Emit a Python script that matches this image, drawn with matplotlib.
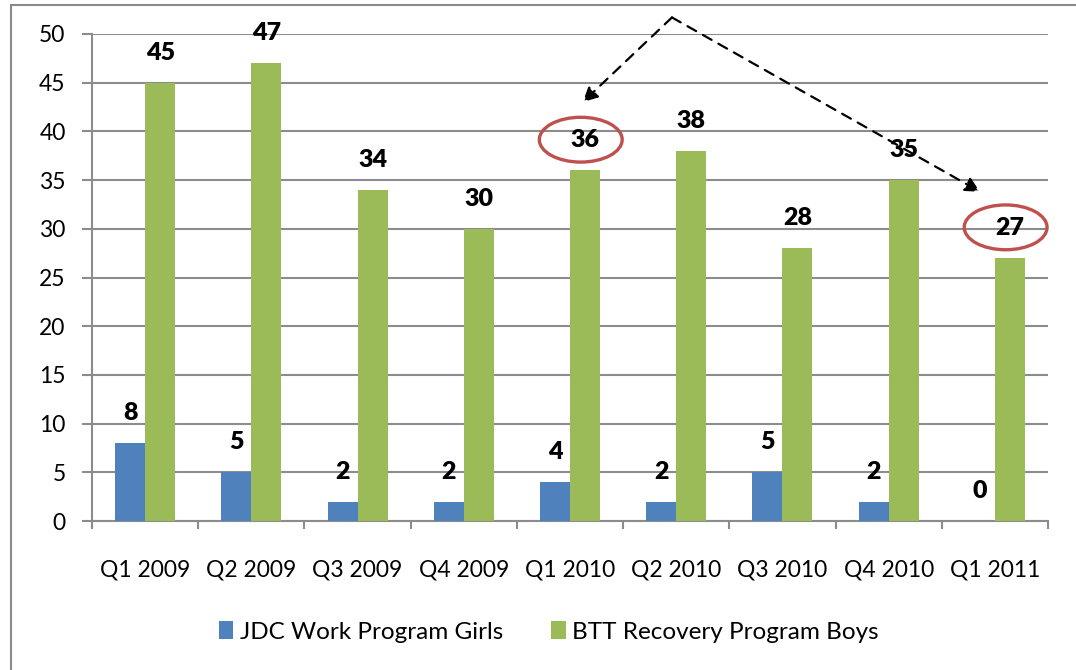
import matplotlib.pyplot as plt
import matplotlib.patches as mpatches
import numpy as np

# data
quarters = ['Q1 2009', 'Q2 2009', 'Q3 2009', 'Q4 2009', 'Q1 2010',
            'Q2 2010', 'Q3 2010', 'Q4 2010', 'Q1 2011']
girls = [8, 5, 2, 2, 4, 2, 5, 2, 0]
boys = [45, 47, 34, 30, 36, 38, 28, 35, 27]
series_names = ['JDC Work Program Girls', 'BTT Recovery Program Boys']
circled = [4, 8]  # boys values marked with a red ring

blue = '#4F81BD'
green = '#9BBB59'
grid_c = '#8C8C8C'

plt.rcParams['font.family'] = ['Lato', 'DejaVu Sans']

fig = plt.figure(figsize=(10.76, 6.70), dpi=100)
ax = fig.add_axes([92/1076, 1-521/670, (1048-92)/1076, (521-34)/670])

x = np.arange(len(quarters))
w = 0.2825
b1 = ax.bar(x - w/2, girls, w, color=blue, label=series_names[0], zorder=3)
b2 = ax.bar(x + w/2, boys, w, color=green, label=series_names[1], zorder=3)

# value labels above the bars
for bars, vals in ((b1, girls), (b2, boys)):
    for r, v in zip(bars, vals):
        ax.annotate(str(v), (r.get_x() + r.get_width()/2, v),
                    xytext=(0, 21.5), textcoords='offset points',
                    ha='center', va='center', fontsize=18, fontweight='heavy',
                    zorder=5, annotation_clip=False)

# red rings round two labels
for i in circled:
    ax.add_patch(mpatches.Ellipse((x[i] + w/2 - 0.04, boys[i] + 3.15), 0.78, 4.6,
                                  fill=False, edgecolor='#C0504D', lw=2.4,
                                  zorder=6, clip_on=False))

# dashed arrows from a common apex
apex = (4.96, 51.7)
for tip in ((4.12, 43.0), (7.86, 33.8)):
    ax.annotate('', xy=tip, xytext=apex, annotation_clip=False,
                arrowprops=dict(arrowstyle='-|>', color='black', lw=1.6,
                                linestyle=(0, (4.5, 3.5)), mutation_scale=22,
                                shrinkA=0, shrinkB=0), zorder=7)

ax.set_xlim(-0.5, len(quarters) - 0.5)
ax.set_ylim(0, 50)
ax.set_yticks(range(0, 51, 5))
ax.set_xticks(x)
ax.set_xticklabels(quarters)
ax.set_xticks(np.arange(-0.5, len(quarters), 1), minor=True)
ax.tick_params(axis='x', which='major', length=0, pad=28, labelsize=16.5)
ax.tick_params(axis='x', which='minor', length=6, width=1.5, color=grid_c, direction='out')
ax.tick_params(axis='y', length=7, width=1.5, color=grid_c, pad=12, labelsize=16.5)

ax.grid(axis='y', color=grid_c, lw=1.5, zorder=0)
for s in ('top', 'right'):
    ax.spines[s].set_visible(False)
for s in ('left', 'bottom'):
    ax.spines[s].set_color(grid_c)
    ax.spines[s].set_linewidth(1.5)

fig.legend(handles=[b1, b2], loc='center', bbox_to_anchor=(0.51, 1-632/670),
           ncol=2, frameon=False, fontsize=17.5, handlelength=0.6,
           handleheight=0.75, handletextpad=0.25, columnspacing=2.0)

# outer chart border (cut off at right and bottom)
fig.patches.append(mpatches.Rectangle((11/1076, -0.2), 1.2, 0.2 + 1 - 5/670,
                                      transform=fig.transFigure, fill=False,
                                      edgecolor='#8A8A8A', lw=1.5))

fig.savefig('out.png', dpi=100)
